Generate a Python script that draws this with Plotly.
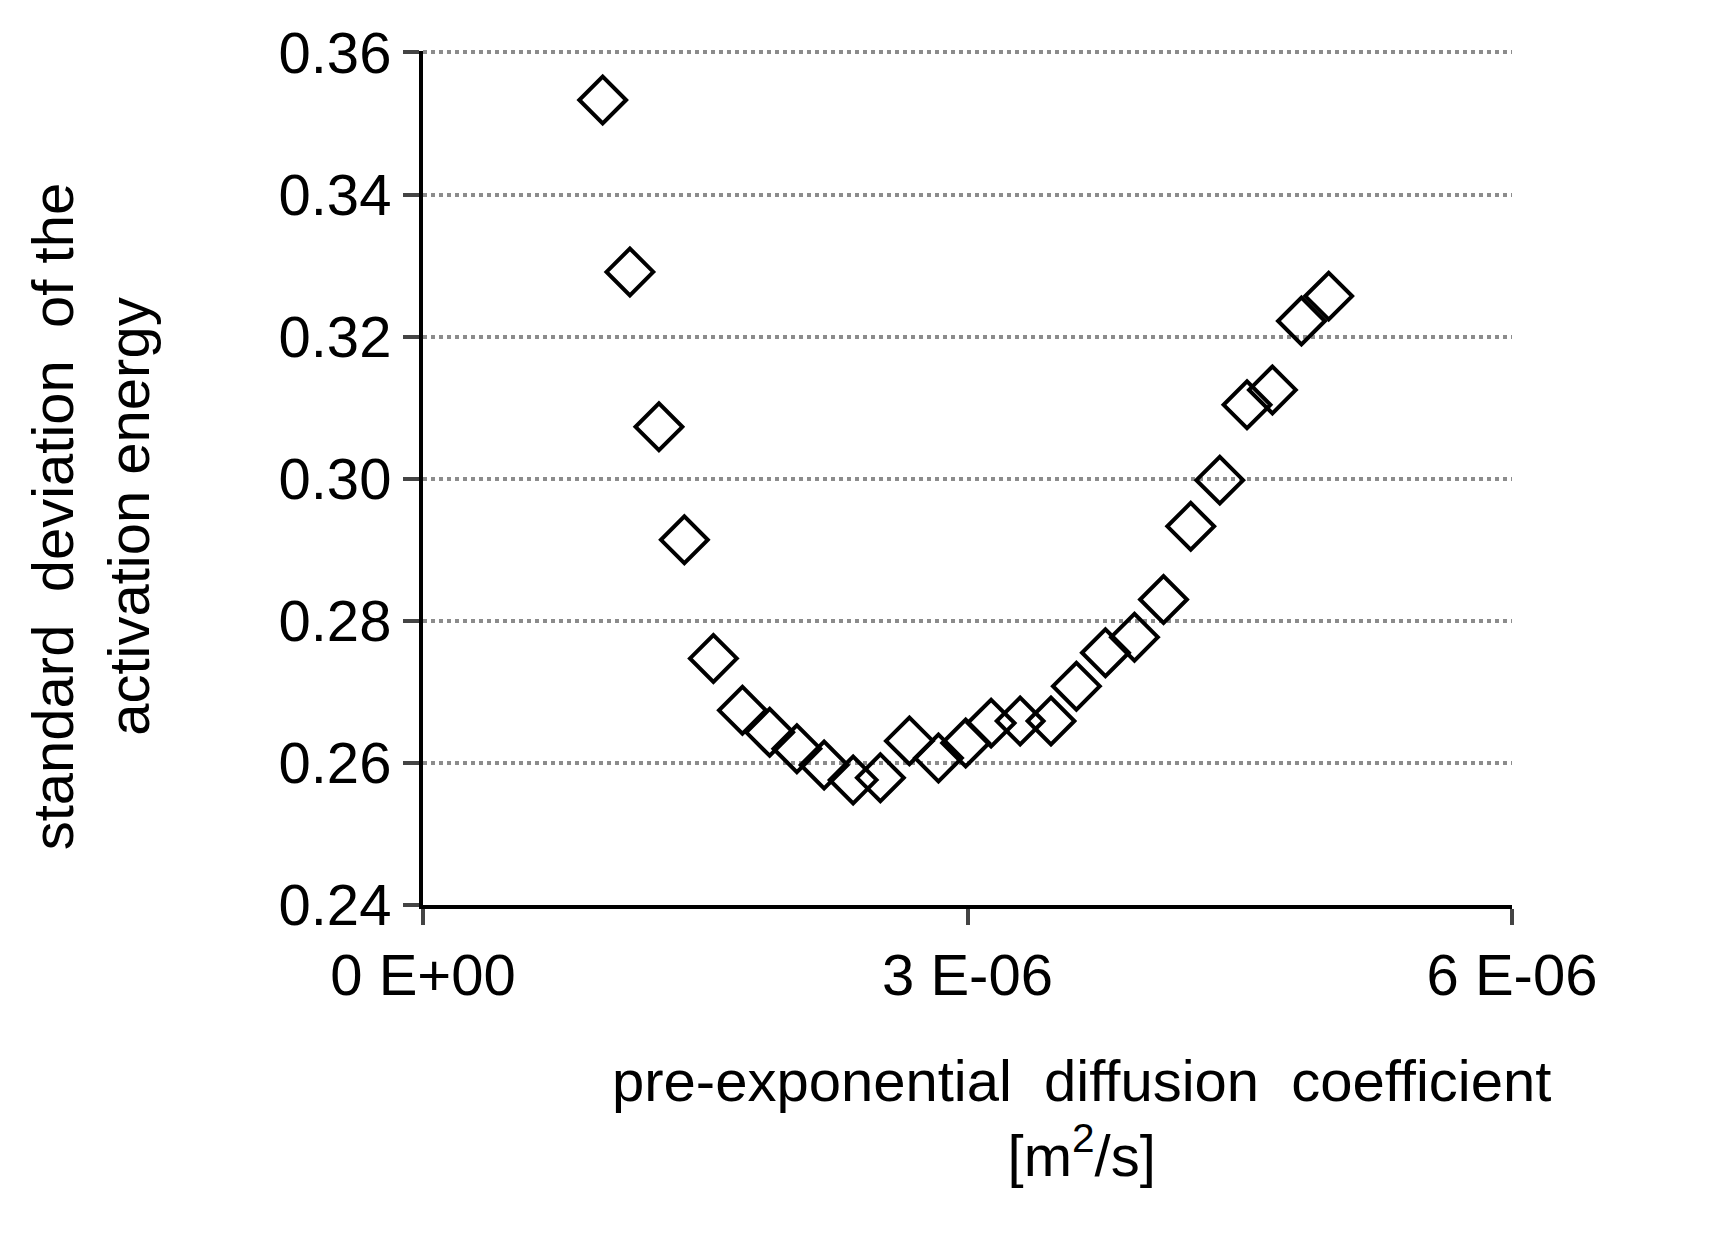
import plotly.graph_objects as go

# pre-exponential diffusion coefficient [m2/s]
d0 = [0.99e-6, 1.14e-6, 1.30e-6, 1.44e-6, 1.60e-6, 1.76e-6, 1.91e-6, 2.06e-6, 2.21e-6,
      2.37e-6, 2.52e-6, 2.68e-6, 2.84e-6, 2.99e-6, 3.13e-6, 3.29e-6, 3.46e-6, 3.60e-6,
      3.76e-6, 3.92e-6, 4.08e-6, 4.23e-6, 4.39e-6, 4.54e-6, 4.68e-6, 4.84e-6, 4.99e-6]
# standard deviation of the activation energy
sd = [0.3533, 0.3291, 0.3073, 0.2914, 0.2747, 0.2674, 0.2643, 0.2620, 0.2597,
      0.2576, 0.2579, 0.2631, 0.2607, 0.2628, 0.2656, 0.2659, 0.2659, 0.2708,
      0.2755, 0.2777, 0.2830, 0.2933, 0.2998, 0.3104, 0.3125, 0.3222, 0.3257]

x_ticks = [0, 3e-6, 6e-6]
x_tick_labels = ["0 E+00", "3 E-06", "6 E-06"]
y_ticks = [0.24, 0.26, 0.28, 0.30, 0.32, 0.34, 0.36]

fnt = dict(family="Liberation Sans, Arial", size=58, color="black")

fig = go.Figure(go.Scatter(
    x=d0, y=sd, mode="markers",
    marker=dict(symbol="diamond-open", size=36, color="black", line=dict(width=4)),
))

fig.update_layout(
    width=1709, height=1243,
    paper_bgcolor="white", plot_bgcolor="white",
    showlegend=False,
    font=fnt,
    margin=dict(l=415, r=205, t=43, b=346),
    xaxis=dict(range=[0, 6e-6], tickvals=x_ticks, ticktext=x_tick_labels,
               showgrid=False, showline=True, linecolor="black", linewidth=4,
               ticks="outside", ticklen=16, tickwidth=4, zeroline=False,
               tickfont=fnt),
    yaxis=dict(range=[0.24, 0.3602], tickvals=y_ticks, tickformat=".2f",
               showgrid=True, gridcolor="#8c8c8c", griddash="dot", gridwidth=4,
               showline=True, linecolor="black", linewidth=4,
               ticks="outside", ticklen=16, tickwidth=4, zeroline=False,
               tickfont=fnt),
    annotations=[
        dict(text="pre-exponential  diffusion  coefficient<br>[m<sup>2</sup>/s]",
             xref="paper", yref="paper", x=0.605, y=-0.165, xanchor="center",
             yanchor="top", showarrow=False, font=fnt, align="center"),
        dict(text="standard  deviation  of the<br>activation energy",
             xref="paper", yref="paper", x=-0.305, y=0.455, textangle=-90,
             xanchor="center", yanchor="middle", showarrow=False, font=fnt,
             align="center"),
    ],
)

fig.write_html("out.html")
